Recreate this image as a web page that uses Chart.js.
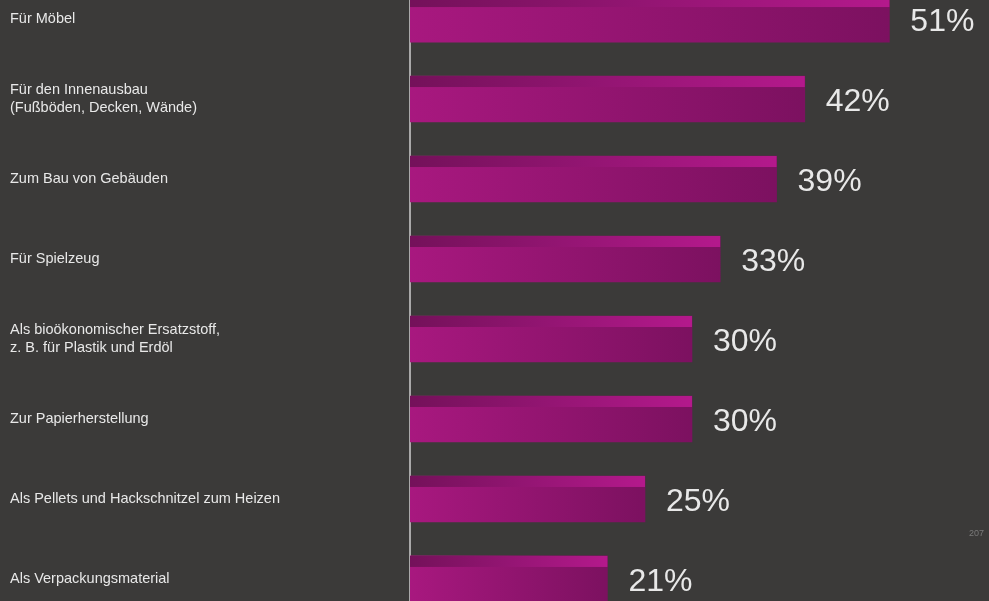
<!DOCTYPE html>
<html lang="de">
<head>
<meta charset="utf-8">
<title>Holz Nutzung</title>
<script src="https://cdn.jsdelivr.net/npm/chart.js@4.4.0/dist/chart.umd.min.js"></script>
<style>
  html, body { margin: 0; padding: 0; background: #3b3a39; overflow: hidden; }
  body { width: 989px; height: 601px; position: relative; }
  #wrap { position: absolute; left: 0; top: -33px; width: 989px; height: 664px; }
  #note { position: absolute; left: 969px; top: 528px; font: 9px "Liberation Sans", Arial, sans-serif; color: #7a7a7a; }
</style>
</head>
<body>
<div id="wrap"><canvas id="grafico"></canvas></div>
<div id="note">207</div>
<script>
// === Datos ===
var categorias = [
  'Für Möbel',
  ['Für den Innenausbau', '(Fußböden, Decken, Wände)'],
  'Zum Bau von Gebäuden',
  'Für Spielzeug',
  ['Als bioökonomischer Ersatzstoff,', 'z. B. für Plastik und Erdöl'],
  'Zur Papierherstellung',
  'Als Pellets und Hackschnitzel zum Heizen',
  'Als Verpackungsmaterial'
];
var valores = [51, 42, 39, 33, 30, 30, 25, 21];

// === Colores ===
var C_TXT = '#e8e8e8';
var C_AXIS = '#a9a9a9';

function gradiente(ctx, x0, x1, c0, c1) {
  var g = ctx.createLinearGradient(x0, 0, x1, 0);
  g.addColorStop(0, c0);
  g.addColorStop(1, c1);
  return g;
}

// Relleno de cada barra: claro a la izquierda, oscuro a la derecha
function fondoBarra(context) {
  var chart = context.chart;
  var x = chart.scales && chart.scales.x;
  if (!x || !chart.chartArea) return '#961570';
  var x0 = x.getPixelForValue(0);
  var x1 = x.getPixelForValue(context.raw);
  return gradiente(chart.ctx, x0, x1, '#a8187f', '#7c1160');
}

// Franja superior (efecto 3D) y etiquetas de valor
var pluginBarras = {
  id: 'barras',
  afterDatasetsDraw: function (chart) {
    var ctx = chart.ctx;
    var meta = chart.getDatasetMeta(0);
    ctx.save();
    meta.data.forEach(function (bar, i) {
      var top = bar.y - bar.height / 2;
      var left = bar.base;
      var right = bar.x;
      ctx.fillStyle = gradiente(ctx, left, right, '#74115a', '#b4198c');
      ctx.fillRect(left, top, right - left, 11);

      ctx.fillStyle = C_TXT;
      ctx.font = '400 32px "Liberation Sans", Arial, sans-serif';
      ctx.textAlign = 'left';
      ctx.textBaseline = 'middle';
      ctx.fillText(valores[i] + '%', right + 21, bar.y + 3);
    });
    ctx.restore();
  }
};

var canvas = document.getElementById('grafico');

new Chart(canvas, {
  type: 'bar',
  data: {
    labels: categorias,
    datasets: [{
      data: valores,
      backgroundColor: fondoBarra,
      borderWidth: 0,
      barThickness: 46
    }]
  },
  options: {
    indexAxis: 'y',
    responsive: true,
    maintainAspectRatio: false,
    animation: false,
    layout: { padding: { left: 10, right: 0, top: 0, bottom: 0 } },
    scales: {
      x: {
        display: false,
        min: 0,
        max: 61.6
      },
      y: {
        z: 1,
        grid: { display: false },
        border: { display: true, color: C_AXIS, width: 2 },
        ticks: {
          crossAlign: 'far',
          color: C_TXT,
          font: { family: '"Liberation Sans", Arial, sans-serif', size: 14.5, lineHeight: 1.25 }
        },
        afterFit: function (scale) { scale.width = 400; }
      }
    },
    plugins: {
      legend: { display: false },
      tooltip: { enabled: false }
    }
  },
  plugins: [pluginBarras]
});
</script>
</body>
</html>
